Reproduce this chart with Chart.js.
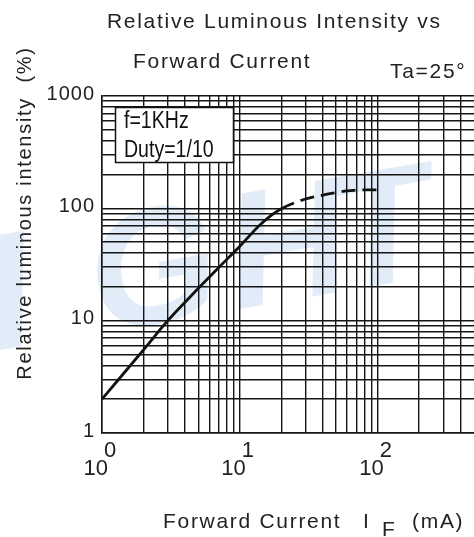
<!DOCTYPE html>
<html><head><meta charset="utf-8">
<script src="https://cdn.jsdelivr.net/npm/chart.js@4.4.1/dist/chart.umd.min.js"></script>
<style>html,body{margin:0;padding:0;background:#fff;overflow:hidden}#wrap{width:474px;height:537px;position:relative}</style>
</head><body><div id="wrap"><canvas id="c" width="474" height="537"></canvas></div>
<script>
// ---- text ----
const titleLines = ["Relative Luminous Intensity vs", "Forward Current"];
const ambientLabel = "Ta=25°";
const xAxisTitleParts = ["Forward Current", "I", "F", "(mA)"];
const yAxisTitle = "Relative luminous intensity  (%)";
const conditionLines = ["f=1KHz", "Duty=1/10"];
const watermarkText = "IGHT";
// ---- ticks ----
const xTickValues = [1, 10, 100];
const xTickBase = ["10", "10", "10"];
const xTickExponents = ["0", "1", "2"];
const yTickValues = [1, 10, 100, 1000];
const yTickLabels = ["1", "10", "100", "1000"];
const xRange = [1, 500];
const yRange = [1, 1000];
// ---- data (solid part, then dashed continuation) ----
const currentSolid = [1, 2, 3, 4.3, 6.7, 10, 14.5, 20];
const intensitySolid = [2, 5.5, 10, 16, 28, 46, 74, 99];
const currentDashed = [30, 40, 50, 60, 70, 80, 90, 100];
const intensityDashed = [121, 131, 138, 143, 145, 146, 146, 146];

const solidCount = currentSolid.length;
const curve = currentSolid.concat(currentDashed).map((x, i) => ({
  x: x, y: intensitySolid.concat(intensityDashed)[i]
}));
const isGrid = (v, max) => {
  if (v >= max - 1e-9) return false;
  const m = v / Math.pow(10, Math.floor(Math.log10(v) + 1e-9));
  return Math.abs(m - Math.round(m)) < 1e-6;
};
const FONT = '"Liberation Sans", Arial, sans-serif';
const INK = '#222';

const textPlugin = {
  id: 'texts',
  beforeDraw(chart) {
    const ctx = chart.ctx;
    ctx.save();
    ctx.fillStyle = 'rgba(200,221,242,0.55)';
    ctx.font = 'italic bold 165px ' + FONT;
    ctx.translate(0, 350);
    ctx.rotate(-0.17);
    const offs = [-5, 100, 240, 345];
    watermarkText.split('').forEach((ch, i) => ctx.fillText(ch, offs[i], 0));
    ctx.restore();
  },
  afterDraw(chart) {
    const ctx = chart.ctx;
    const xs = chart.scales.x, ys = chart.scales.y;
    ctx.save();
    ctx.fillStyle = INK;
    ctx.textBaseline = 'alphabetic';
    // titles
    ctx.font = '21px ' + FONT;
    ctx.letterSpacing = '1.7px';
    ctx.textAlign = 'left';
    ctx.fillText(titleLines[0], 107, 28);
    ctx.fillText(titleLines[1], 133, 68);
    ctx.fillText(ambientLabel, 390, 78);
    // x title
    ctx.fillText(xAxisTitleParts[0], 163, 528);
    ctx.fillText(xAxisTitleParts[1], 363, 528);
    ctx.fillText(xAxisTitleParts[2], 382, 536);
    ctx.fillText(xAxisTitleParts[3], 412, 528);
    // y title
    ctx.save();
    ctx.font = '20px ' + FONT;
    ctx.translate(31, 213);
    ctx.rotate(-Math.PI / 2);
    ctx.textAlign = 'center';
    ctx.fillText(yAxisTitle, 0, 0);
    ctx.restore();
    // y tick labels
    ctx.font = '20px ' + FONT;
    ctx.letterSpacing = '1px';
    ctx.textAlign = 'right';
    ctx.textBaseline = 'middle';
    yTickValues.forEach((v, i) => {
      ctx.fillText(yTickLabels[i], 95, ys.getPixelForValue(v) - 2);
    });
    // x tick labels
    ctx.letterSpacing = '0px';
    ctx.font = '22px ' + FONT;
    ctx.textBaseline = 'alphabetic';
    xTickValues.forEach((v, i) => {
      const px = xs.getPixelForValue(v);
      ctx.textAlign = 'right';
      ctx.fillText(xTickBase[i], px + 6, 475);
      ctx.textAlign = 'left';
      ctx.fillText(xTickExponents[i], px + 2, 457);
    });
    // condition box
    ctx.fillStyle = '#fff';
    ctx.strokeStyle = '#111';
    ctx.lineWidth = 1.5;
    ctx.beginPath();
    ctx.rect(115.5, 107.5, 118, 55);
    ctx.fill();
    ctx.stroke();
    ctx.fillStyle = '#111';
    ctx.font = '23px ' + FONT;
    ctx.textAlign = 'left';
    ctx.save();
    ctx.translate(124, 0);
    ctx.scale(0.85, 1);
    ctx.fillText(conditionLines[0], 0, 128);
    ctx.fillText(conditionLines[1], 0, 157);
    ctx.restore();
    ctx.restore();
  }
};

const gridOpts = (max) => ({
  color: (c) => (c.tick && isGrid(c.tick.value, max)) ? '#151515' : 'rgba(0,0,0,0)',
  lineWidth: 1.4,
  drawTicks: false
});

new Chart(document.getElementById('c'), {
  type: 'scatter',
  data: {
    datasets: [
      {data: curve, showLine: true, borderColor: '#111', borderWidth: 2.8,
       pointRadius: 0, tension: 0.4, fill: false,
       segment: {borderDash: (c) => c.p0DataIndex >= solidCount - 1 ? [14, 7] : undefined}}
    ]
  },
  options: {
    responsive: false,
    animation: false,
    devicePixelRatio: 1,
    layout: {padding: {left: 102, top: 96, right: 0, bottom: 104}},
    plugins: {legend: {display: false}, tooltip: {enabled: false}},
    scales: {
      x: {type: 'logarithmic', min: xRange[0], max: xRange[1],
          ticks: {display: false, autoSkip: false}, grid: gridOpts(xRange[1]),
          border: {display: true, color: '#151515', width: 1.5}},
      y: {type: 'logarithmic', min: yRange[0], max: yRange[1],
          ticks: {display: false, autoSkip: false}, grid: gridOpts(yRange[1] * 10),
          border: {display: true, color: '#151515', width: 1.5}}
    }
  },
  plugins: [textPlugin]
});
</script></body></html>
